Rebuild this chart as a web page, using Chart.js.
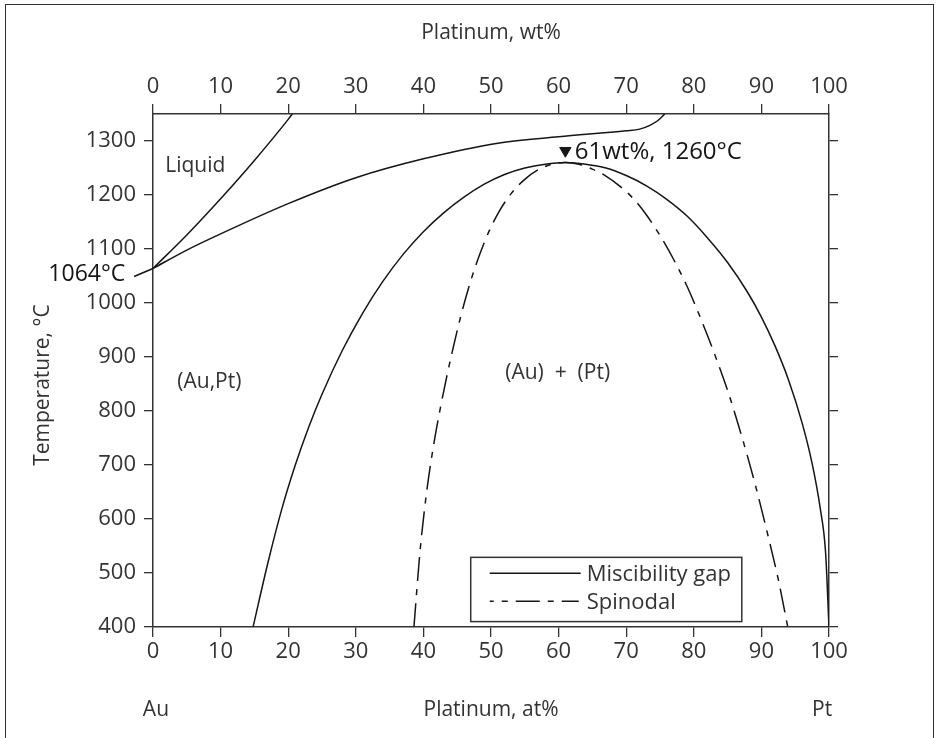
<!DOCTYPE html>
<html>
<head>
<meta charset="utf-8">
<script src="https://cdn.jsdelivr.net/npm/chart.js@4.4.0/dist/chart.umd.min.js"></script>
<style>
  html, body { margin: 0; padding: 0; background: #fff; }
  #wrap { position: relative; width: 936px; height: 738px; overflow: hidden; }
  #frame { position: absolute; left: 5px; top: 4px; width: 927px; height: 760px; border: 1.5px solid #333; pointer-events: none; }
</style>
</head>
<body>
<div id="wrap">
  <canvas id="diagram" width="936" height="738"></canvas>
  <div id="frame"></div>
</div>
<script>
// Au-Pt phase diagram (at% Pt, deg C)
const liquidusPt = [0, 5, 10, 15, 20, 20.6];
const liquidusT  = [1064, 1126, 1193, 1264, 1340, 1350];

const solidusPt = [0, 5, 10, 20, 30, 40, 51, 60, 70, 72, 73.5, 74.7, 75.7];
const solidusT  = [1064, 1098, 1128, 1184, 1232, 1267, 1296, 1308, 1319, 1322, 1329, 1338, 1350];

const gapPt = [14.8, 17, 19, 21, 23, 25, 28, 31, 34, 37, 40, 43, 46, 49, 52, 55, 58, 61,
               64, 67, 70, 73, 76, 79, 82, 85, 88, 90, 92, 94, 96, 97.5, 98.7, 99.5, 100];
const gapT  = [400, 519, 616, 698, 769, 831, 912, 981, 1040, 1090, 1132, 1167, 1196, 1220, 1238, 1250, 1257, 1260,
               1257, 1250, 1236, 1217, 1192, 1161, 1121, 1075, 1019, 974, 921, 858, 779, 703, 620, 537, 400];

const spinodalPt = [38.6, 39.5, 40.5, 41.5, 42.5, 44, 45.5, 47, 49, 51, 53, 55, 57, 59, 61,
                    63, 65, 67, 69, 71, 73, 75, 77, 79, 81, 83, 85, 87, 89, 91, 92.5, 93.9];
const spinodalT  = [400, 540, 652, 736, 805, 895, 974, 1041, 1112, 1165, 1203, 1229, 1247, 1257, 1260,
                    1257, 1248, 1235, 1217, 1194, 1163, 1125, 1081, 1031, 972, 908, 838, 757, 668, 568, 488, 400];

// short leader from the 1064 label to the melting point of Au
const leaderPt = [-2.8, 0];
const leaderT  = [1049, 1064];

// critical point marker
const criticalPt = [61];
const criticalT  = [1282];

const atTicks   = [0, 10, 20, 30, 40, 50, 60, 70, 80, 90, 100];
const wtTicks   = [0, 10, 20, 30, 40, 50, 60, 70, 80, 90, 100];
const tempTicks = [400, 500, 600, 700, 800, 900, 1000, 1100, 1200, 1300];

const FONT = "'Open Sans', 'Noto Sans', sans-serif";
const AXIS = '#333';
const TEXT = '#333';
const INK = '#151515';

function zip(xs, ys) {
  return xs.map((v, i) => ({ x: v, y: ys[i] }));
}

function fixedTicks(values) {
  return scale => { scale.ticks = values.map(v => ({ value: v })); };
}

function curve(label, xs, ys, dash) {
  return {
    label: label,
    data: zip(xs, ys),
    showLine: true,
    borderColor: INK,
    borderWidth: 1.5,
    borderDash: dash || [],
    pointRadius: 0,
    cubicInterpolationMode: 'monotone',
    fill: false
  };
}

const SPINODAL_DASH = [24, 8, 6, 8];

// texts placed on the diagram plus the boxed legend
const phaseLabels = {
  id: 'phaseLabels',
  afterDatasetsDraw(chart) {
    const { ctx, scales } = chart;
    const x = scales.x, y = scales.y;
    ctx.save();
    ctx.textBaseline = 'middle';

    function put(txt, px, py, align, color, size, weight) {
      ctx.font = (weight || '400') + ' ' + (size || 21) + 'px ' + FONT;
      ctx.fillStyle = color;
      ctx.textAlign = align;
      ctx.fillText(txt, px, py);
    }

    put('Liquid', x.getPixelForValue(1.8), y.getPixelForValue(1253), 'left', TEXT);
    put('(Au,Pt)', x.getPixelForValue(3.6), y.getPixelForValue(854), 'left', TEXT);
    put('(Au)  +  (Pt)', x.getPixelForValue(52.1), y.getPixelForValue(871), 'left', TEXT);
    put('1064°C', x.getPixelForValue(-4.1), y.getPixelForValue(1053), 'right', INK, 23, '500');
    put('61wt%, 1260°C', x.getPixelForValue(62.4), y.getPixelForValue(1280), 'left', INK, 24, '500');

    // composition end members under the bottom axis
    const baseY = chart.height - 28;
    put('Au', x.getPixelForValue(-1.5), baseY, 'left', TEXT);
    put('Pt', x.getPixelForValue(97.5), baseY, 'left', TEXT);

    // y title
    ctx.save();
    ctx.translate(43, y.getPixelForValue(848));
    ctx.rotate(-Math.PI / 2);
    put('Temperature, °C', 0, 0, 'center', TEXT);
    ctx.restore();

    // legend box
    const left = x.getPixelForValue(47), right = x.getPixelForValue(87.1);
    const top = y.getPixelForValue(529), bottom = y.getPixelForValue(410);
    ctx.fillStyle = '#fff';
    ctx.fillRect(left, top, right - left, bottom - top);
    ctx.strokeStyle = AXIS;
    ctx.lineWidth = 1.5;
    ctx.strokeRect(left, top, right - left, bottom - top);

    const row1 = top + 16, row2 = top + 44;
    ctx.strokeStyle = INK;
    ctx.beginPath();
    ctx.moveTo(left + 19, row1);
    ctx.lineTo(left + 110, row1);
    ctx.stroke();
    ctx.setLineDash(SPINODAL_DASH);
    ctx.lineDashOffset = 20;
    ctx.beginPath();
    ctx.moveTo(left + 19, row2);
    ctx.lineTo(left + 108, row2);
    ctx.stroke();
    ctx.setLineDash([]);

    put('Miscibility gap', left + 116, row1 + 1, 'left', TEXT, 22);
    put('Spinodal', left + 116, row2 + 1, 'left', TEXT, 22);
    ctx.restore();
  }
};

const tickFont = { family: FONT, size: 22 };
const titleFont = { family: FONT, size: 21 };
const plainLabel = v => String(v);

new Chart(document.getElementById('diagram'), {
  type: 'scatter',
  data: {
    datasets: [
      curve('Liquidus', liquidusPt, liquidusT),
      curve('Solidus', solidusPt, solidusT),
      curve('Miscibility gap', gapPt, gapT),
      curve('Spinodal', spinodalPt, spinodalT, SPINODAL_DASH),
      Object.assign(curve('leader', leaderPt, leaderT), { clip: false, cubicInterpolationMode: 'default', tension: 0 }),
      {
        label: 'critical point',
        data: zip(criticalPt, criticalT),
        pointStyle: 'triangle',
        rotation: 180,
        pointRadius: 6.5,
        backgroundColor: INK,
        borderColor: INK,
        borderWidth: 1
      }
    ]
  },
  options: {
    responsive: false,
    animation: false,
    layout: { padding: 0 },
    plugins: {
      legend: { display: false },
      tooltip: { enabled: false }
    },
    scales: {
      x: {
        type: 'linear',
        position: 'bottom',
        min: 0,
        max: 100,
        afterBuildTicks: fixedTicks(atTicks),
        afterFit: s => { s.height = 111; },
        grid: { drawOnChartArea: false, tickLength: 10, color: AXIS, lineWidth: 1.3 },
        border: { color: AXIS, width: 1.5 },
        ticks: { font: tickFont, color: TEXT, padding: 2, maxRotation: 0, autoSkip: false, callback: plainLabel },
        title: { display: true, text: 'Platinum, at%', font: titleFont, color: TEXT, padding: { top: 0, bottom: 15 } }
      },
      xTop: {
        type: 'linear',
        position: 'top',
        min: 0,
        max: 100,
        afterBuildTicks: fixedTicks(wtTicks),
        afterFit: s => { s.height = 114; },
        grid: { drawOnChartArea: false, tickLength: 10, color: AXIS, lineWidth: 1.3 },
        border: { color: AXIS, width: 1.5 },
        ticks: { font: tickFont, color: TEXT, padding: 4, maxRotation: 0, autoSkip: false, callback: plainLabel },
        title: { display: true, text: 'Platinum, wt%', font: titleFont, color: TEXT, padding: { top: 20, bottom: 0 } }
      },
      y: {
        type: 'linear',
        position: 'left',
        min: 400,
        max: 1350,
        afterBuildTicks: fixedTicks(tempTicks),
        afterFit: s => { s.width = 153; },
        grid: { drawOnChartArea: false, tickLength: 9, color: AXIS, lineWidth: 1.3 },
        border: { color: AXIS, width: 1.5 },
        ticks: { font: tickFont, color: TEXT, padding: 8, callback: plainLabel }
      },
      yRight: {
        type: 'linear',
        position: 'right',
        min: 400,
        max: 1350,
        afterBuildTicks: fixedTicks(tempTicks),
        afterFit: s => { s.width = 107; },
        grid: { drawOnChartArea: false, tickLength: 9, color: AXIS, lineWidth: 1.3 },
        border: { color: AXIS, width: 1.5 },
        ticks: { display: false }
      }
    }
  },
  plugins: [phaseLabels]
});
</script>
</body>
</html>
